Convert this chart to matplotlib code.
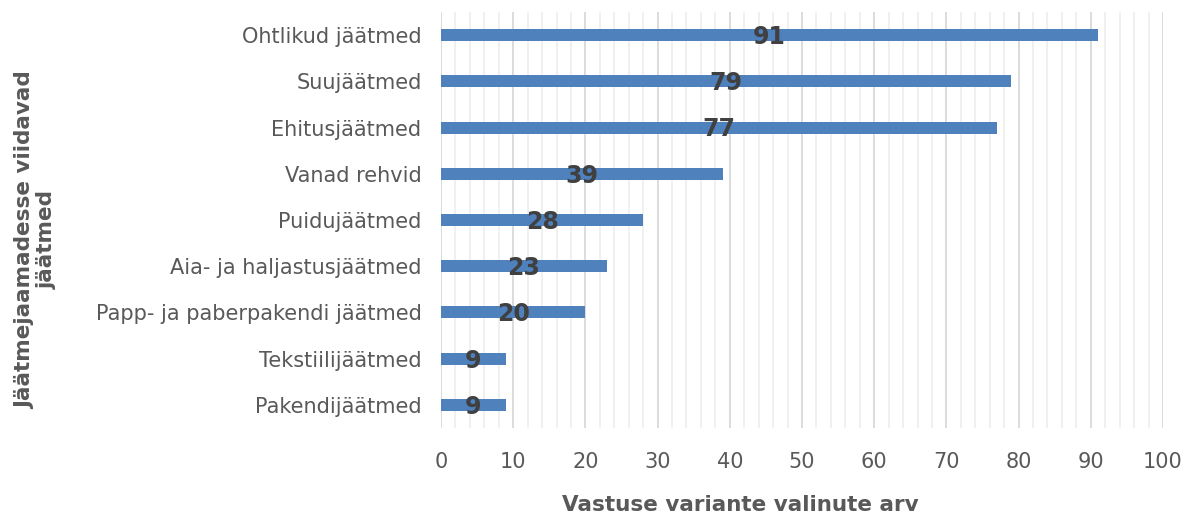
import matplotlib
matplotlib.use("Agg")
import matplotlib.pyplot as plt
import numpy as np

categories = [
    "Pakendijäätmed",
    "Tekstiilijäätmed",
    "Papp- ja paberpakendi jäätmed",
    "Aia- ja haljastusjäätmed",
    "Puidujäätmed",
    "Vanad rehvid",
    "Ehitusjäätmed",
    "Suujäätmed",
    "Ohtlikud jäätmed",
]
values = [9, 9, 20, 23, 28, 39, 77, 79, 91]
x_ticks = list(range(0, 101, 10))

bar_color = "#4f81bd"
text_color = "#595959"
label_color = "#404040"

plt.rcParams["font.family"] = ["DejaVu Sans"]

fig = plt.figure(figsize=(11.85, 5.17), dpi=100)
ax = fig.add_axes([441 / 1185, 1 - 428 / 517, (1163 - 441) / 1185, (428 - 12) / 517])

y = np.arange(len(categories))
ax.barh(y, values, height=0.26, color=bar_color, zorder=3)

# value labels centred on each bar
for yi, v in zip(y, values):
    ax.text(v / 2, yi - 0.04, str(v), ha="center", va="center",
            fontsize=17, fontweight="bold", color=label_color, zorder=4)

ax.set_xlim(0, 100)
ax.set_ylim(-0.5, len(categories) - 0.5)
ax.set_xticks(x_ticks)
ax.set_xticks(np.arange(0, 101, 2), minor=True)
ax.set_yticks(y)
ax.set_yticklabels(categories)

ax.grid(axis="x", which="major", color="#d9d9d9", linewidth=1.3, zorder=0)
ax.grid(axis="x", which="minor", color="#ececec", linewidth=1.1, zorder=0)
ax.grid(axis="y", visible=False)

for s in ax.spines.values():
    s.set_visible(False)

ax.tick_params(axis="both", which="both", length=0)
ax.tick_params(axis="x", labelsize=15, labelcolor=text_color, pad=17)
ax.tick_params(axis="y", labelsize=15, labelcolor=text_color, pad=14)

fig.text(740 / 1185, 1 - 505 / 517, "Vastuse variante valinute arv",
         ha="center", va="center", fontsize=15.5, fontweight="bold", color=text_color)
fig.text(36 / 1185, 1 - 240 / 517, "Jäätmejaamadesse viidavad\njäätmed",
         ha="center", va="center", rotation=90, fontsize=15.5, fontweight="bold",
         color=text_color, multialignment="center", linespacing=1.15)

fig.savefig("out.png", dpi=100, facecolor="white")
